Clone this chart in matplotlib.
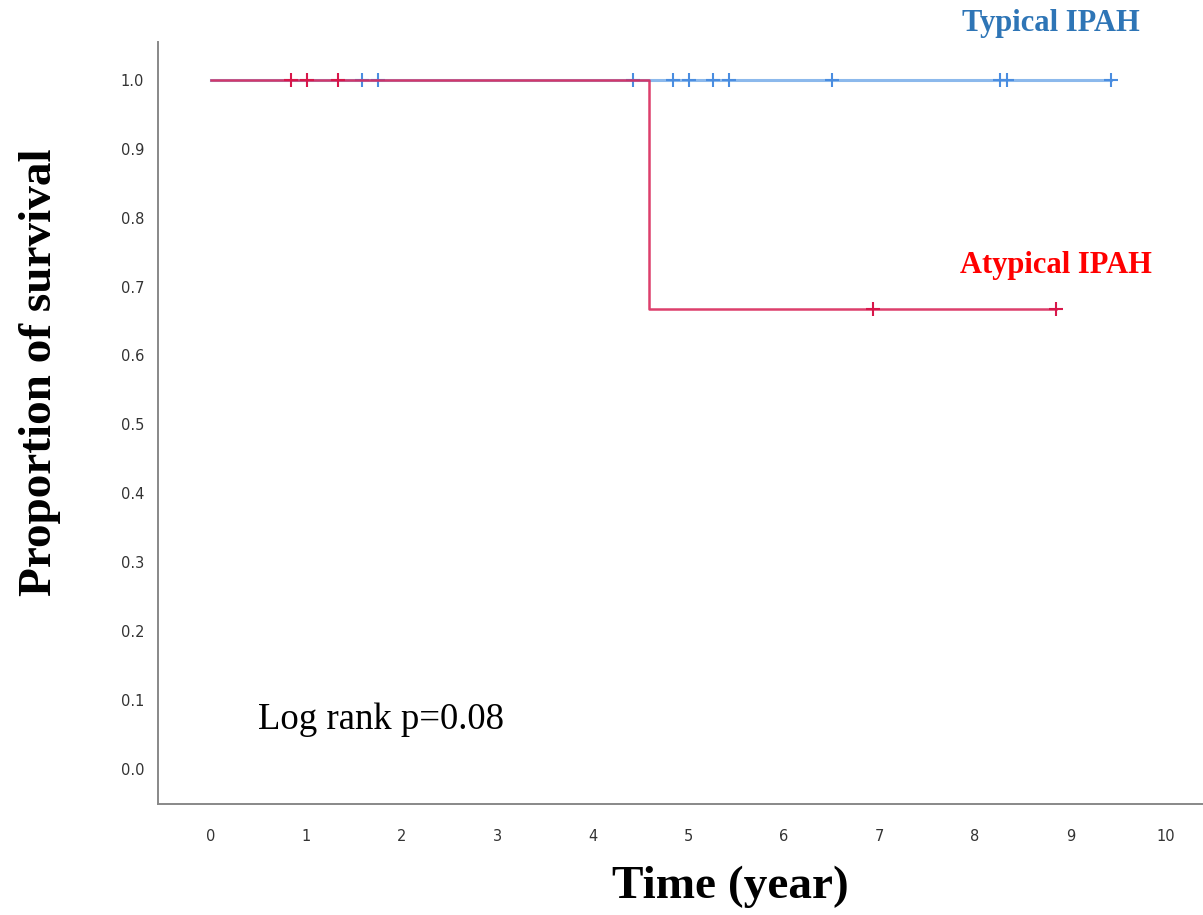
import numpy as np
import matplotlib
matplotlib.use("Agg")
import matplotlib.pyplot as plt

# -----------------------------
# Data
# -----------------------------
typ_time = [0.0, 9.43]
typ_surv = [1.0, 1.0]
typ_censor = [1.585, 1.754, 4.422, 4.838, 5.008, 5.259, 5.429, 6.505, 8.261, 8.341, 9.428]

atyp_time = [0.0, 4.586, 8.848]
atyp_surv = [1.0, 0.667, 0.667]
atyp_censor_t = [0.836, 1.004, 1.333, 6.929, 8.848]
atyp_censor_s = [1.0, 1.0, 1.0, 0.667, 0.667]

xticks = list(range(0, 11))
yticks = [i / 10 for i in range(0, 11)]

# -----------------------------
# Colors / fonts
# -----------------------------
blue_line = '#8cb9ec'
blue_mark = '#4a8de0'
red_line = '#d92a5c'
red_mark = '#d8174a'
serif = 'Liberation Serif'

fig = plt.figure(figsize=(12.03, 9.15), dpi=100)
ax = fig.add_axes([158 / 1203, 111 / 915, 1045 / 1203, 762 / 915])

# Typical IPAH
ax.step(typ_time, typ_surv, where='post', color=blue_line, lw=2.2, zorder=2)
ax.plot(typ_censor, [1.0] * len(typ_censor), ls='none', marker='+',
        ms=10, mew=1.5, color=blue_mark, zorder=3)

# Atypical IPAH
ax.step(atyp_time, atyp_surv, where='post', color=red_line, lw=1.8,
        alpha=0.9, zorder=4)
ax.plot(atyp_censor_t, atyp_censor_s, ls='none', marker='+',
        ms=10, mew=1.5, color=red_mark, zorder=5)

ax.set_xlim(-0.555, 10.39)
ax.set_ylim(-0.051, 1.055)
ax.set_xticks(xticks)
ax.set_yticks(yticks)
ax.set_yticklabels([f'{v:.1f}' for v in yticks])
ax.tick_params(axis='both', length=0, labelsize=10.5, labelcolor='#333333')
ax.tick_params(axis='x', pad=18)
ax.tick_params(axis='y', pad=10)

for s in ['top', 'right']:
    ax.spines[s].set_visible(False)
for s in ['left', 'bottom']:
    ax.spines[s].set_color('#888888')
    ax.spines[s].set_linewidth(1.4)

# -----------------------------
# Text
# -----------------------------
fig.text(40 / 1203, 1 - 372 / 915, 'Proportion of survival', rotation=90,
         ha='center', va='center', family=serif, fontweight='bold', fontsize=34)
fig.text(730 / 1203, 1 - 887 / 915, 'Time (year)',
         ha='center', va='center', family=serif, fontweight='bold', fontsize=34)
fig.text(1051 / 1203, 1 - 23 / 915, 'Typical IPAH', color='#2e75b6',
         ha='center', va='center', family=serif, fontweight='bold', fontsize=22)
fig.text(1056 / 1203, 1 - 266 / 915, 'Atypical IPAH', color='#ff0000',
         ha='center', va='center', family=serif, fontweight='bold', fontsize=22)
fig.text(258 / 1203, 1 - 720 / 915, 'Log rank p=0.08', color='black',
         ha='left', va='center', family=serif, fontsize=26.5)

fig.savefig('out.png', dpi=100)
